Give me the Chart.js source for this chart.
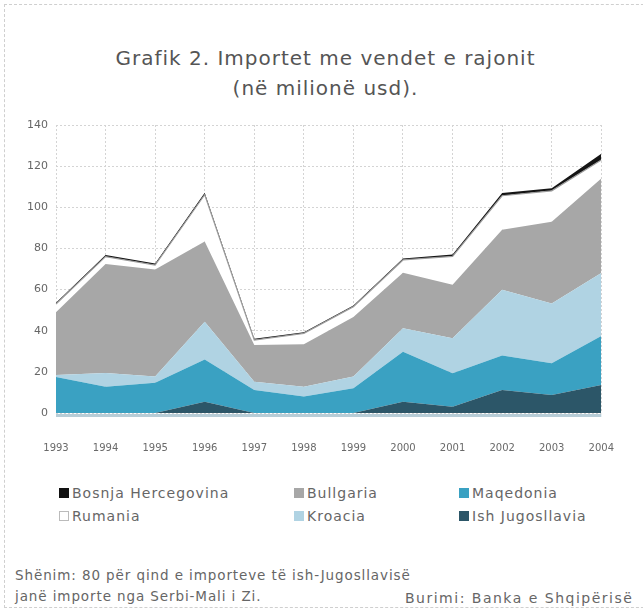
<!DOCTYPE html>
<html>
<head>
<meta charset="utf-8">
<script src="https://cdn.jsdelivr.net/npm/chart.js@4.4.1/dist/chart.umd.min.js"></script>
<style>
  html,body{margin:0;padding:0;background:#fff;}
  body{width:643px;height:610px;overflow:hidden;position:relative;font-family:"DejaVu Sans",sans-serif;color:#555;}
  #frame{position:absolute;left:4px;top:4px;width:660px;height:604px;border:1px dashed #cfcfcf;box-sizing:border-box;}
  .t{position:absolute;left:4px;width:643px;text-align:center;color:#555;font-size:20px;letter-spacing:1px;line-height:26px;white-space:nowrap;}
  #wrap{position:absolute;left:0;top:110px;width:643px;height:350px;}
  .lg{position:absolute;font-size:14px;letter-spacing:1px;line-height:20px;color:#666;white-space:nowrap;}
  .sw{position:absolute;width:10px;height:10px;box-sizing:border-box;}
  .fn{position:absolute;font-size:13.5px;letter-spacing:0.9px;line-height:20px;color:#666;white-space:nowrap;}
</style>
</head>
<body>
<div id="frame"></div>
<div class="t" style="top:45px;">Grafik 2. Importet me vendet e rajonit</div>
<div class="t" style="top:75px;">(në milionë usd).</div>
<div id="wrap"><canvas id="c"></canvas></div>
<div id="legend"></div>
<div class="fn" style="left:15px;top:565px;">Shënim: 80 për qind e importeve të ish-Jugosllavisë</div>
<div class="fn" style="left:15px;top:586px;">janë importe nga Serbi-Mali i Zi.</div>
<div class="fn" style="left:405px;top:588px;font-size:14px;letter-spacing:1.5px;">Burimi: Banka e Shqipërisë</div>
<script>
const years = ['1993','1994','1995','1996','1997','1998','1999','2000','2001','2002','2003','2004'];
const yTicks = [0,20,40,60,80,100,120,140];
const ishJugosllavia = [0, 0, 0, 5.5, 0, 0, 0, 5.5, 3, 11.2, 8.7, 13.6];
const maqedonia      = [17.5, 12.8, 14.7, 20.5, 11.2, 8, 12, 24.3, 16.3, 16.7, 15.5, 23.8];
const kroacia        = [1, 6.6, 3, 18.4, 4, 4.8, 5.7, 11.4, 17, 32, 29, 30.6];
const bullgaria      = [30.5, 53, 52, 39, 17.8, 20.6, 29, 27, 26, 29.2, 39.8, 46];
const rumania        = [4, 3.6, 2.2, 22.7, 2.5, 5.3, 5, 6.2, 13.8, 16.5, 15, 9];
const bosnja         = [0.6, 0.8, 0.8, 1, 0.6, 0.6, 0.6, 0.7, 1, 1.3, 1.2, 3];

const seriesNames = ['Ish Jugosllavia','Maqedonia','Kroacia','Bullgaria','Rumania','Bosnja Hercegovina'];
const seriesData = [ishJugosllavia, maqedonia, kroacia, bullgaria, rumania, bosnja];
const fills = ['#2c5668','#3aa1c2','#b0d3e3','#a7a7a7','#ffffff','#151515'];
const borders = ['#2c5668','#3aa1c2','#b0d3e3','#a7a7a7','#9c9c9c','#151515'];
const bw = [0,0,0,0,1.2,0];

const datasets = seriesNames.map((n,i)=>({
  label:n, data:seriesData[i], backgroundColor:fills[i], borderColor:borders[i],
  borderWidth:bw[i], pointRadius:0, tension:0, fill: i===0 ? 'origin' : '-1'
}));

const axisLine = {
  id:'axisLine',
  afterDatasetsDraw(chart){
    const {ctx, chartArea:a} = chart;
    ctx.save();
    ctx.strokeStyle = '#b7cdd7';
    ctx.lineWidth = 3;
    ctx.beginPath();
    ctx.moveTo(a.left, a.bottom+2.5);
    ctx.lineTo(a.right, a.bottom+2.5);
    ctx.stroke();
    ctx.restore();
  }
};

new Chart(document.getElementById('c'), {
  type:'line',
  data:{labels:years, datasets},
  plugins:[axisLine],
  options:{
    responsive:true, maintainAspectRatio:false, animation:false,
    layout:{padding:{top:15,right:13,left:0,bottom:0}},
    plugins:{legend:{display:false}, tooltip:{enabled:false}, title:{display:false}},
    scales:{
      x:{
        grid:{color:'#d4d4d4', lineWidth:1, drawTicks:false},
        border:{display:false, dash:[2,2]},
        ticks:{font:{family:'DejaVu Sans', size:10}, color:'#6a6a6a', padding:29, autoSkip:false, maxRotation:0},
        afterFit(s){ s.height = 47; }
      },
      y:{
        stacked:true, min:0, max:140,
        afterBuildTicks(s){ s.ticks = yTicks.map(v=>({value:v})); },
        grid:{color:'#d4d4d4', lineWidth:1, drawTicks:false},
        border:{display:false, dash:[2,2]},
        ticks:{font:{family:'DejaVu Sans', size:11}, color:'#666', padding:8},
        afterFit(s){ s.width = 56; }
      }
    }
  }
});

const legendItems = [
  {name:'Bosnja Hercegovina', c:'#111', b:'#111', col:0, row:0},
  {name:'Bullgaria', c:'#a7a7a7', b:'#a7a7a7', col:1, row:0},
  {name:'Maqedonia', c:'#3aa1c2', b:'#3aa1c2', col:2, row:0},
  {name:'Rumania', c:'#fff', b:'#bbb', col:0, row:1},
  {name:'Kroacia', c:'#b0d3e3', b:'#b0d3e3', col:1, row:1},
  {name:'Ish Jugosllavia', c:'#2c5668', b:'#2c5668', col:2, row:1}
];
const colX = [59, 294, 459];
const rowY = [493, 516];
const lg = document.getElementById('legend');
legendItems.forEach(it=>{
  const sw = document.createElement('div');
  sw.className='sw';
  sw.style.left = colX[it.col]+'px';
  sw.style.top = (rowY[it.row]-5)+'px';
  sw.style.background = it.c;
  sw.style.border = '1px solid '+it.b;
  lg.appendChild(sw);
  const t = document.createElement('div');
  t.className='lg';
  t.style.left = (colX[it.col]+13)+'px';
  t.style.top = (rowY[it.row]-10)+'px';
  t.textContent = it.name;
  lg.appendChild(t);
});
</script>
</body>
</html>
